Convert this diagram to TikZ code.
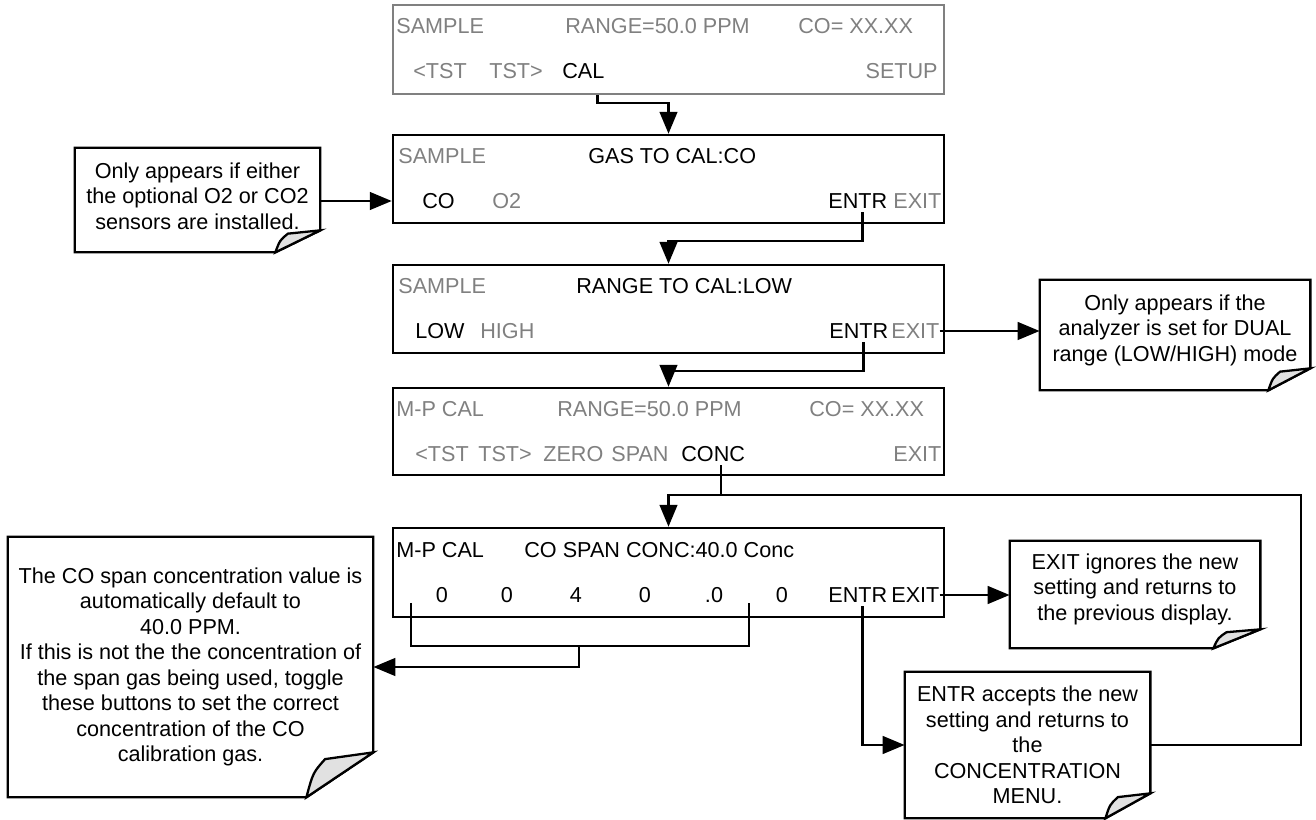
\documentclass[tikz,border=0pt]{standalone}
\usepackage{fontspec}
\setmainfont{Liberation Sans}
\usetikzlibrary{arrows.meta,calc}
\definecolor{lcdgray}{RGB}{128,128,128}
\definecolor{foldgray}{RGB}{225,225,225}
\newcommand{\dispfont}{\fontsize{12.3pt}{14.5pt}\selectfont}

\begin{document}
\begin{tikzpicture}[x=0.02cm,y=-0.02cm]

\def\pxu{0.02cm}

\tikzset{line/.style={draw,line width=1.5pt}}
\tikzset{arrow/.style={line,-{Triangle[length=12.5pt,width=10pt]}}}
\tikzset{disp/.style={draw,line width=1.4pt,inner sep=0pt,minimum width=551*\pxu}}
\tikzset{lbl/.style={anchor=west,inner sep=0pt,text height=8.8pt,text depth=0pt,font=\dispfont}}
\tikzset{dim/.style={lbl,text=lcdgray}}
\tikzset{note/.style={inner sep=0pt,align=center,font=\dispfont}}
\tikzset{noteline/.style={draw,line width=1.3pt,line join=miter}}

% note outline with the curled corner: #1 node, #2 fold width, #3 fold height, #4 extra below the text box
\def\drawnote#1#2#3#4{%
  \coordinate (#1-se) at ($(#1.south east)+(0,#4)$);
  \coordinate (#1-sw) at ($(#1.south west)+(0,#4)$);
  \path[noteline] (#1.north west) -- (#1.north east) -- ($(#1-se)+(0,-#3)$) -- ($(#1-se)+(-#2,0)$) -- (#1-sw) -- cycle;
  \path[noteline,fill=foldgray] ($(#1-se)+(-#2,0)$) .. controls ($(#1-se)+(-0.9*#2,-0.55*#3)$) .. ($(#1-se)+(-0.72*#2,-0.85*#3)$) -- ($(#1-se)+(0,-#3)$) -- cycle;
}

\useasboundingbox (0,0) rectangle (1316,820);

% displays
\node[disp,draw=lcdgray,minimum height=89*\pxu] (d1) at (668.5,49.5) {};
\node[dim] (d1mode) at (396,26) {SAMPLE};
\node[dim] (d1range) at (565,26) {RANGE=50.0 PPM};
\node[dim] (d1conc) at (798,26) {CO= XX.XX};
\node[dim] (d1tstl) at (413,71) {<TST};
\node[dim] (d1tstr) at (489,71) {TST>};
\node[lbl] (d1cal) at (562,71) {CAL};
\node[dim,anchor=east] (d1setup) at (938,71) {SETUP};

\node[disp,minimum height=88*\pxu] (d2) at (668.5,179) {};
\node[dim] (d2mode) at (398,156) {SAMPLE};
\node[lbl] (d2title) at (588,156) {GAS TO CAL:CO};
\node[lbl] (d2co) at (422,201) {CO};
\node[dim] (d2otwo) at (492,201) {O2};
\node[lbl] (d2entr) at (828,201) {ENTR};
\node[dim] (d2exit) at (893,201) {EXIT};

\node[disp,minimum height=88*\pxu] (d3) at (668.5,309) {};
\node[dim] (d3mode) at (398,286) {SAMPLE};
\node[lbl] (d3title) at (576,286) {RANGE TO CAL:LOW};
\node[lbl] (d3low) at (415,331) {LOW};
\node[dim] (d3high) at (480,331) {HIGH};
\node[lbl] (d3entr) at (829,331) {ENTR};
\node[dim] (d3exit) at (891,331) {EXIT};

\node[disp,minimum height=87*\pxu] (d4) at (668.5,431.5) {};
\node[dim] (d4mode) at (396,409) {M-P CAL};
\node[dim] (d4range) at (557,409) {RANGE=50.0 PPM};
\node[dim] (d4conc) at (809,409) {CO= XX.XX};
\node[dim] (d4tstl) at (415,454) {<TST};
\node[dim] (d4tstr) at (478,454) {TST>};
\node[dim] (d4zero) at (543,454) {ZERO};
\node[dim] (d4span) at (611,454) {SPAN};
\node[lbl] (d4conc) at (681,454) {CONC};
\node[dim] (d4exit) at (893,454) {EXIT};

\node[disp,minimum height=89*\pxu] (d5) at (668.5,572.5) {};
\node[lbl] (d5mode) at (396,550) {M-P CAL};
\node[lbl] (d5title) at (524,550) {CO SPAN CONC:40.0 Conc};
\node[lbl,anchor=center] (d5da) at (442,595) {0};
\node[lbl,anchor=center] (d5db) at (507,595) {0};
\node[lbl,anchor=center] (d5dc) at (576,595) {4};
\node[lbl,anchor=center] (d5dd) at (645,595) {0};
\node[lbl,anchor=center] (d5de) at (714,595) {.0};
\node[lbl,anchor=center] (d5df) at (782,595) {0};
\node[lbl] (d5entr) at (828,595) {ENTR};
\node[lbl] (d5exit) at (891,595) {EXIT};

% notes
\node[note,minimum width=245*\pxu,minimum height=96*\pxu] (nopt) at (197.5,196) {Only appears if either\\the optional O2 or CO2\\sensors are installed.};
\drawnote{nopt}{45}{22}{8}

\node[note,minimum width=270*\pxu,minimum height=100*\pxu] (ndual) at (1175,330) {Only appears if the\\analyzer is set for DUAL\\range (LOW/HIGH) mode};
\drawnote{ndual}{42}{22}{10}

\node[note,minimum width=365*\pxu,minimum height=260*\pxu] (nspan) at (190.5,667) {The CO span concentration value is\\automatically default to\\40.0 PPM.\\If this is not the the concentration of\\the span gas being used, toggle\\these buttons to set the correct\\concentration of the CO\\calibration gas.};
\drawnote{nspan}{67}{45}{0}

\node[note,minimum width=250*\pxu,minimum height=96*\pxu] (nexit) at (1135,589) {EXIT ignores the new\\setting and returns to\\the previous display.};
\drawnote{nexit}{47}{19}{11}

\node[note,minimum width=245*\pxu,minimum height=146*\pxu] (nentr) at (1027.5,745) {ENTR accepts the new\\setting and returns to\\the\\CONCENTRATION\\MENU.};
\drawnote{nentr}{45}{25}{0}

% connectors
\coordinate (j1) at (668.5,103);
\coordinate (j2) at (668.5,241);
\coordinate (j3) at (668.5,371);
\coordinate (j4) at (668.5,495);
\coordinate (loop) at (1301,495);
\coordinate (c1) at ($(d1cal.south)+(14,0)$);
\coordinate (c4) at ($(d4conc.south)+(8,3)$);

\draw[arrow] (c1 |- d1.south) |- (j1) -- (d2.north);
\draw[arrow] ($(d2entr.south)+(5,3)$) |- (j2) -- (d3.north);
\draw[arrow] ($(d3entr.south)+(5,3)$) |- (j3) -- (d4.north);
\draw[line] (c4) -- (c4 |- j4);
\draw[arrow] (nentr.east) -| (loop) -- (j4) -- (d5.north);

\draw[arrow] (nopt.east |- d2co.west) -- (d2.west |- d2co.west);
\draw[arrow] (d3exit.east) -- (ndual.west |- d3exit.east);
\draw[arrow] (d5exit.east) -- (nexit.west |- d5exit.east);
\draw[arrow] ($(d5entr.south)+(5,3)$) |- (nentr.west);

% digit bracket
\coordinate (b1) at (411,603);
\coordinate (b2) at (749,603);
\coordinate (bm) at (579,646);
\coordinate (bj) at (579,667);
\draw[line] (b1) |- (b2 |- bm) -- (b2);
\draw[arrow] (bm) |- (nspan.east |- bj);

\end{tikzpicture}
\end{document}
